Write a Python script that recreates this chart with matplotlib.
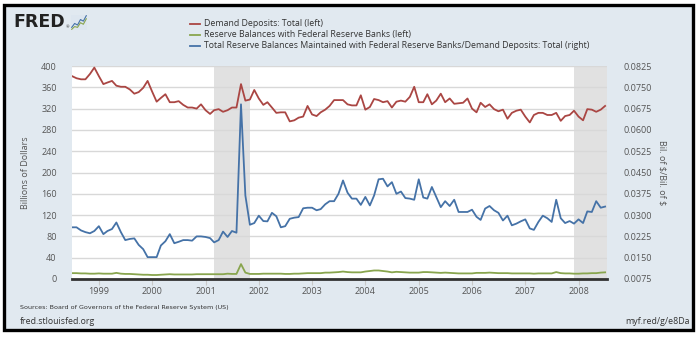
"""
FRED chart: demand deposits, reserve balances and reserve/deposit ratio, 1998-2008
"""
import numpy as np
import pandas as pd
import matplotlib
matplotlib.use('Agg')
import matplotlib.pyplot as plt
from matplotlib.patches import Rectangle
from matplotlib.lines import Line2D

plt.rcParams['font.family'] = ['Open Sans', 'DejaVu Sans']

START = '1998-07-01'
N_MONTHS = 121

# Demand Deposits: Total (billions of dollars, left axis)
demand_deposits = [
    381, 377, 375, 375, 385, 397, 381, 366, 369, 372, 363, 361, 361, 356, 348, 351,
    359, 372, 352, 333, 340, 347, 332, 332, 334, 327, 322, 322, 320, 328, 317, 310,
    317, 319, 314, 317, 322, 322, 366, 335, 337, 355, 339, 327, 332, 322, 312, 313,
    313, 296, 298, 303, 305, 325, 309, 306, 313, 318, 325, 336, 336, 336, 328, 326,
    326, 345, 318, 323, 338, 336, 332, 334, 322, 333, 335, 333, 342, 361, 332, 332,
    347, 328, 335, 348, 332, 339, 329, 330, 331, 339, 320, 313, 331, 323, 328, 319,
    315, 318, 301, 312, 316, 318, 305, 294, 308, 312, 312, 308, 308, 312, 297, 306,
    308, 316, 305, 298, 319, 318, 314, 318, 325,
]

# Reserve Balances with Federal Reserve Banks (billions of dollars, left axis)
reserve_balances = [
    11, 11, 10.5, 10.5, 10, 10, 10.5, 10, 10, 10, 11.5, 10, 9.5, 9.5, 9, 8.5,
    8, 8, 7.5, 7.5, 8, 8.5, 9, 8.5, 8.5, 8.5, 8.5, 8.5, 9, 9, 9, 9,
    9, 9, 9, 10, 9.5, 9.5, 28, 12, 9.5, 9.5, 9.5, 10, 10, 10, 10, 10,
    9.5, 9.5, 10, 10, 10.5, 11, 11, 11, 11, 12, 12, 12.5, 13, 14, 13, 12.5,
    12.5, 12.5, 14, 15, 16, 16, 15, 14, 12.5, 13.5, 13, 12.5, 12, 12, 12, 13,
    13, 12.5, 12, 11.5, 12, 11.5, 11, 10.5, 10.5, 10.5, 10.5, 11.5, 11.5, 11.5, 12, 11.5,
    11, 11, 11, 10.5, 10.5, 10.5, 10.5, 10.5, 10, 10.5, 10.5, 10.5, 10.5, 13, 11, 10.5,
    10.5, 10, 10, 10.5, 10.5, 11, 11, 12, 12.5,
]

# Total Reserve Balances / Demand Deposits (ratio, right axis)
reserve_ratio = [
    0.0257, 0.0257, 0.0246, 0.0240, 0.0236, 0.0244, 0.0261, 0.0233, 0.0244, 0.0251,
    0.0274, 0.0240, 0.0212, 0.0216, 0.0218, 0.0195, 0.0180, 0.0152, 0.0152, 0.0152,
    0.0193, 0.0208, 0.0233, 0.0201, 0.0206, 0.0212, 0.0212, 0.0210, 0.0225, 0.0225,
    0.0223, 0.0219, 0.0204, 0.0212, 0.0242, 0.0223, 0.0244, 0.0238, 0.0690, 0.0369,
    0.0266, 0.0272, 0.0298, 0.0279, 0.0278, 0.0308, 0.0296, 0.0257, 0.0261, 0.0287,
    0.0291, 0.0293, 0.0324, 0.0326, 0.0326, 0.0317, 0.0321, 0.0338, 0.0349, 0.0349,
    0.0375, 0.0422, 0.0379, 0.0358, 0.0358, 0.0336, 0.0364, 0.0334, 0.0369, 0.0426,
    0.0428, 0.0401, 0.0416, 0.0375, 0.0383, 0.0360, 0.0358, 0.0354, 0.0426, 0.0362,
    0.0358, 0.0399, 0.0364, 0.0328, 0.0349, 0.0332, 0.0354, 0.0311, 0.0311, 0.0311,
    0.0319, 0.0294, 0.0283, 0.0323, 0.0332, 0.0317, 0.0308, 0.0281, 0.0298, 0.0264,
    0.0270, 0.0278, 0.0285, 0.0253, 0.0248, 0.0276, 0.0298, 0.0289, 0.0276, 0.0354,
    0.0289, 0.0272, 0.0279, 0.0270, 0.0285, 0.0272, 0.0313, 0.0311, 0.0349, 0.0326,
    0.0330,
]

recessions = [('2001-03-01', '2001-11-01'), ('2007-12-01', '2008-07-20')]
left_ticks = list(range(0, 401, 40))
right_ticks = [0.0075, 0.0150, 0.0225, 0.0300, 0.0375, 0.0450,
               0.0525, 0.0600, 0.0675, 0.0750, 0.0825]
years = list(range(1999, 2009))

RED, GREEN, BLUE = '#aa4643', '#89a54e', '#4572a7'
BG = '#e1e9f0'
TXT = '#555555'

W, H = 700, 338
fig = plt.figure(figsize=(7, 3.38), dpi=100)
fig.patch.set_facecolor('white')

# framed background, on its own axes so it sits under everything else
bg = fig.add_axes([0, 0, 1, 1])
bg.set_xlim(0, W)
bg.set_ylim(H, 0)
bg.axis('off')
bg.add_patch(Rectangle((4, 5), 689, 325, facecolor=BG, edgecolor='black', lw=2.4))

dates = pd.date_range(START, periods=N_MONTHS, freq='MS')

ax = fig.add_axes([72 / W, 1 - 279 / H, 535 / W, 213 / H])
ax.set_facecolor('white')
for a, b in recessions:
    ax.axvspan(pd.Timestamp(a), pd.Timestamp(b), color='#e1e1e1', lw=0, zorder=0)
for t in left_ticks[1:]:
    ax.axhline(t, color='#d8d8d8', lw=1.0, zorder=1)

ax.plot(dates, demand_deposits, color=RED, lw=1.3, zorder=3)
ax.plot(dates, reserve_balances, color=GREEN, lw=1.3, zorder=3)
ax.set_ylim(0, 400)
ax.set_yticks(left_ticks)
ax.set_xlim(pd.Timestamp('1998-07-01'), pd.Timestamp('2008-07-14'))
ax.set_xticks([pd.Timestamp(f'{y}-01-01') for y in years])
ax.set_xticklabels([str(y) for y in years])
ax.tick_params(axis='y', length=0, pad=11, labelsize=6.5, labelcolor=TXT)
ax.tick_params(axis='x', length=4, color='#c8c8c8', pad=2, labelsize=6.5, labelcolor=TXT)
for s in ['top', 'left', 'right']:
    ax.spines[s].set_visible(False)
ax.spines['bottom'].set_color('#333333')
ax.spines['bottom'].set_linewidth(2)
ax.spines['bottom'].set_zorder(5)
ax.set_ylabel('Billions of Dollars', fontsize=6.5, color=TXT, labelpad=8)

ax2 = ax.twinx()
ax2.plot(dates, reserve_ratio, color=BLUE, lw=1.3, zorder=3)
ax2.set_ylim(0.0075, 0.0825)
ax2.set_yticks(right_ticks)
ax2.set_yticklabels([f'{v:.4f}' for v in right_ticks])
ax2.tick_params(axis='y', length=0, pad=12, labelsize=6.5, labelcolor=TXT)
for s in ax2.spines.values():
    s.set_visible(False)
ax2.set_ylabel(r'Bil. of \$/Bil. of \$', fontsize=6.5, color=TXT, rotation=270,
               labelpad=10)

# legend
legend = [
    (RED, 'Demand Deposits: Total (left)'),
    (GREEN, 'Reserve Balances with Federal Reserve Banks (left)'),
    (BLUE, 'Total Reserve Balances Maintained with Federal Reserve Banks/Demand Deposits: Total (right)'),
]
for k, (c, lbl) in enumerate(legend):
    y = 24 + k * 11
    bg.add_line(Line2D([190, 200], [y, y], color=c, lw=1.3))
    bg.text(204, y, lbl, fontsize=6.3, color='#333333', va='center', ha='left')

# FRED logo
bg.text(13, 22, 'FRED', fontsize=12.5, fontweight='heavy', color='#222222',
        va='center', ha='left', family=['DejaVu Sans'])
bg.text(66, 27, '®', fontsize=3, color='#222222', va='center')
icon = fig.add_axes([71 / W, 1 - 30 / H, 16 / W, 15 / H])
icon.set_facecolor('#dde6ef')
icon.plot([0, 1, 2, 3, 4, 5], [1, 2, 1.6, 3, 2.6, 4], color='#4572a7', lw=0.8)
icon.plot([0, 1, 2, 3, 4, 5], [0.5, 1.2, 1.0, 2.2, 1.8, 3.2], color='#89a54e', lw=0.8)
icon.set_xticks([])
icon.set_yticks([])
for s in icon.spines.values():
    s.set_visible(False)

# footer
bg.text(20, 307, 'Sources: Board of Governors of the Federal Reserve System (US)',
        fontsize=4.6, color='#333333', va='center', ha='left',
        family=['Liberation Sans Narrow', 'DejaVu Sans'])
bg.text(20, 321, 'fred.stlouisfed.org', fontsize=6.3, color='#333333',
        va='center', ha='left')
bg.text(690, 321, 'myf.red/g/e8Da', fontsize=6.3, color='#333333',
        va='center', ha='right')

fig.savefig('out.png', dpi=100, facecolor='white')
